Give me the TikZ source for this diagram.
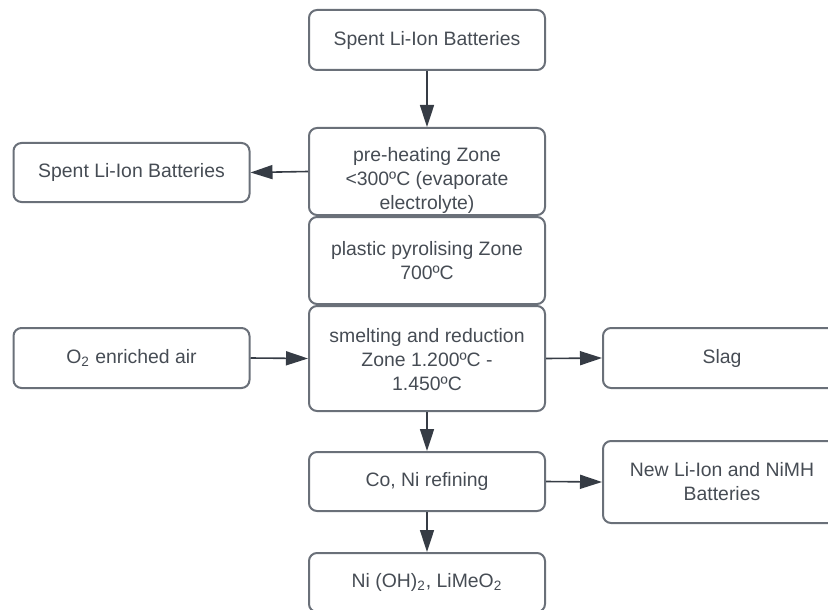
\documentclass[tikz,border=0pt]{standalone}
\usepackage{fontspec}
\setmainfont{Liberation Sans}
\usepackage{xcolor}
\usetikzlibrary{arrows.meta}

\definecolor{boxline}{HTML}{6A7079}
\definecolor{txtgray}{HTML}{464C54}
\definecolor{arrowgray}{HTML}{363C45}

% lowered multi-line text block
\newcommand{\lowtext}[2]{\raisebox{#1}[0pt][0pt]{\begin{tabular}{@{}c@{}}#2\end{tabular}}}

\tikzset{
  stage/.style={draw=boxline, line width=1pt, rounded corners=4pt,
    text=txtgray, align=center, font=\fontsize{9.7}{12}\selectfont,
    minimum width=118pt, inner sep=2pt},
  flow/.style={->, draw=arrowgray, line width=0.8pt}
}

\begin{document}
\begin{tikzpicture}[x=0.5pt, y=-0.5pt, >={Triangle[length=11pt,width=7pt]}]
        \clip (0,0) rectangle (828,609);
        % main column
        \node[stage, minimum height=30pt] (batt) at (427,40) {Spent Li-Ion Batteries};
        \node[stage, minimum height=43.5pt] (heat) at (427,171.5)
            {\lowtext{-7pt}{pre-heating Zone\\ <300ºC (evaporate\\ electrolyte)}};
        \node[stage, minimum height=43.5pt] (pyro) at (427,260.5)
            {plastic pyrolising Zone\\ 700ºC};
        \node[stage, minimum height=52.5pt] (smelt) at (427,358.5)
            {\lowtext{-4pt}{smelting and reduction\\ Zone 1.200ºC -\\ 1.450ºC}};
        \node[stage, minimum height=29.5pt] (refine) at (427,481.5) {Co, Ni refining};
        \node[stage, minimum height=29.5pt] (prod) at (427,582.5)
            {Ni (OH)\textsubscript{2}, LiMeO\textsubscript{2}};
        % side boxes
        \node[stage, minimum height=29.5pt] (gas) at (131.5,172.5) {Spent Li-Ion Batteries};
        \node[stage, minimum height=30pt] (air) at (131.5,358) {O\textsubscript{2} enriched air};
        \node[stage, minimum height=30pt, minimum width=119pt] (slag) at (722,358) {Slag};
        \node[stage, minimum height=41pt, minimum width=119pt] (newbatt) at (722,482)
            {New Li-Ion and NiMH\\ Batteries};
        % arrows
        \draw[flow] (batt) -- (heat);
        \draw[flow] (heat.west) -- (gas.east);
        \draw[flow] (air.east) -- (smelt.west);
        \draw[flow] (smelt.east) -- (slag.west);
        \draw[flow] (smelt) -- (refine);
        \draw[flow] (refine.east) -- (newbatt.west);
        \draw[flow] (refine) -- (prod);
\end{tikzpicture}
\end{document}
